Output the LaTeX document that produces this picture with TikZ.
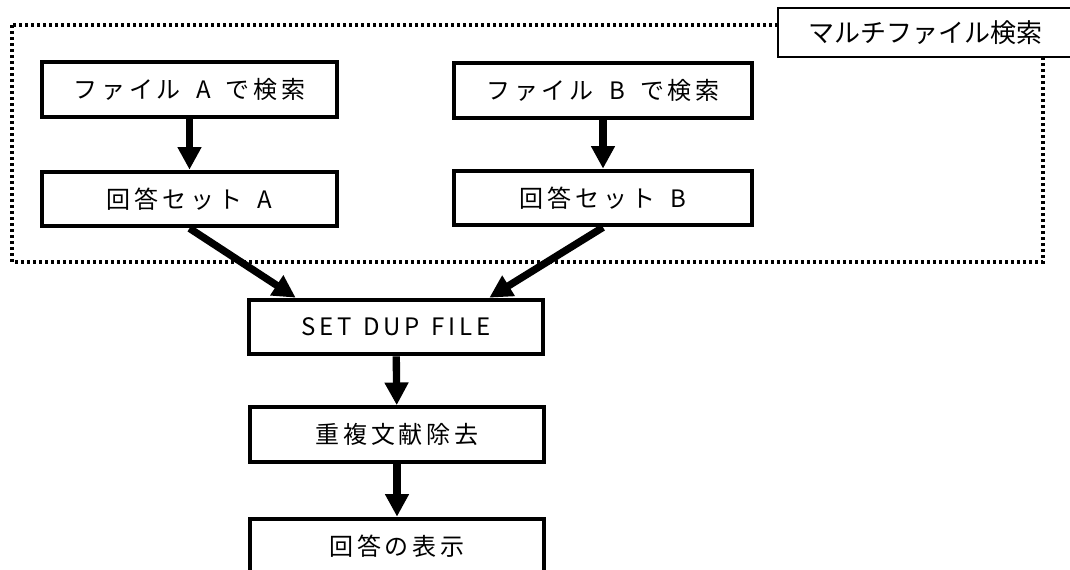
\documentclass[tikz,border=0pt]{standalone}
\usepackage{fontspec}
\newfontfamily\jpfont[LetterSpace=16]{Noto Sans CJK JP}
\newfontfamily\jplabel{Noto Sans CJK JP}
\usetikzlibrary{arrows.meta,calc}
\tikzset{
	procbox/.style={draw, line width=3pt, minimum width=221pt, minimum height=41pt, inner sep=0pt, font=\jpfont\fontsize{18}{18}\selectfont},
	flowarrow/.style={line width=5.5pt, -{Triangle[length=17pt,width=17pt]}},
}

\begin{document}
\begin{tikzpicture}[x=0.75pt,y=-0.75pt]
			\clip (0,0) rectangle (1070,569);
			%%%%% START %%%%%
			\draw[line width=2.6pt, dash pattern=on 2.25pt off 2.25pt] (12,25) rectangle (1043,262);
			\node[draw, fill=white, line width=1.1pt, minimum width=220.5pt, minimum height=36.75pt, font=\jplabel\fontsize{19.5}{19.5}\selectfont] (multi) at (925,32.5) {マルチファイル検索};
			
			\node[procbox] (filea) at (189.5,89.5) {ファイル\hspace{0.25em} A \hspace{0.25em}で検索};
			\node[procbox, minimum width=223.5pt] (fileb) at (603,90.5) {ファイル\hspace{0.25em} B \hspace{0.25em}で検索};
			\node[procbox] (seta) at (189.5,199) {回答セット\hspace{0.25em} A};
			\node[procbox, minimum width=223.5pt] (setb) at (603,198) {回答セット\hspace{0.25em} B};
			
			\node[procbox] (dup) at (396,327) {SET\hspace{0.1em} DUP\hspace{0.1em} FILE};
			\node[procbox] (dedup) at (397,434.5) {重複文献除去};
			\node[procbox] (answer) at (397,546) {回答の表示};
			
			\draw[flowarrow] (filea) -- (seta);
			\draw[flowarrow] (fileb) -- (setb);
			\draw[flowarrow] (seta.south) -- ($(dup.north west)+(49,0)$);
			\draw[flowarrow] (setb.south) -- ($(dup.north east)+(-56,0)$);
			\draw[flowarrow] (dup) -- (dedup);
			\draw[flowarrow] (dedup) -- (answer);
			%%%%% END %%%%%
\end{tikzpicture}
\end{document}
